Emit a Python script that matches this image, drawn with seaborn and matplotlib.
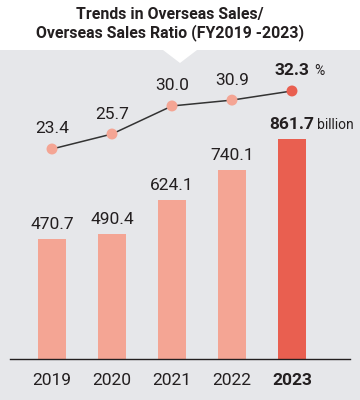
import matplotlib
matplotlib.use("Agg")
import matplotlib.pyplot as plt
import seaborn as sns
import pandas as pd
from matplotlib.patches import Polygon, Rectangle

years = ["2019", "2020", "2021", "2022", "2023"]
sales = [470.7, 490.4, 624.1, 740.1, 861.7]
ratio = [23.4, 25.7, 30.0, 30.9, 32.3]
title_lines = ["Trends in Overseas Sales/", "Overseas Sales Ratio (FY2019 -2023)"]

sns.set_theme(style="white")
plt.rcParams['font.family'] = ['Roboto', 'DejaVu Sans']

GREY = "#e6e7ea"
LIGHT = "#f4a594"
DARK = "#e95f50"
TXT = "#231f20"

W, H = 360, 400
fig = plt.figure(figsize=(W / 100, H / 100), dpi=100, facecolor=GREY)

# white title band + notch
fig.patches.append(Rectangle((0, 1 - 50 / H), 1, 50 / H, transform=fig.transFigure,
                             facecolor="white", edgecolor="none", zorder=0))
fig.patches.append(Polygon([(163 / W, 1 - 50 / H), (197 / W, 1 - 50 / H), (180 / W, 1 - 63 / H)],
                           closed=True, transform=fig.transFigure,
                           facecolor="white", edgecolor="none", zorder=0))

fig.text(170 / W, 1 - 14 / H, title_lines[0], ha="center", va="center",
         fontsize=11.4, fontweight="bold", color=TXT)
fig.text(170 / W, 1 - 33 / H, title_lines[1], ha="center", va="center",
         fontsize=11.4, fontweight="bold", color=TXT)

left, right, bottom, top = 10, 350, 359, 60
ax = fig.add_axes([left / W, 1 - bottom / H, (right - left) / W, (bottom - top) / H])
ax.set_facecolor("none")

df = pd.DataFrame({"year": years, "sales": sales, "ratio": ratio})
colors = [LIGHT] * 4 + [DARK]
sns.barplot(data=df, x="year", y="sales", hue="year", palette=colors, legend=False,
            width=0.467, ax=ax, saturation=1, linewidth=0, edgecolor="none")

ax.set_xlim(-0.7, 4.967)
pxu = 0.255
ax.set_ylim(0, (bottom - top) / pxu)
for s in ["top", "right", "left"]:
    ax.spines[s].set_visible(False)
ax.spines["bottom"].set_color("#231f20")
ax.spines["bottom"].set_linewidth(1)
ax.set_yticks([])
ax.set_xlabel("")
ax.set_ylabel("")
ax.tick_params(axis="x", length=0, pad=10, labelsize=12.5, labelcolor=TXT)
for i, lab in enumerate(ax.get_xticklabels()):
    if i == 4:
        lab.set_fontweight("bold")

# bar labels
for i, v in enumerate(sales):
    ax.annotate(f"{v:.1f}", (i, v), xytext=(0, 5), textcoords="offset points",
                ha="center", va="bottom", fontsize=12.5, color=TXT,
                fontweight="bold" if i == 4 else "normal")

# line axis
ax2 = ax.twinx()
ax2.set_facecolor("none")
rpx = 6.52
ymin2 = ratio[0] - (bottom - 149) / rpx
ymax2 = ratio[0] + (149 - top) / rpx
ax2.set_ylim(ymin2, ymax2)
ax2.set_xlim(-0.7, 4.967)
sns.lineplot(x=list(range(len(years))), y=ratio, ax=ax2, color="#333333", linewidth=1.1,
             zorder=2)
ax2.scatter(range(len(years)), ratio, s=62, c=colors, zorder=3, linewidths=0)
for s in ax2.spines.values():
    s.set_visible(False)
ax2.set_yticks([])
ax2.set_ylabel("")

for i, v in enumerate(ratio):
    ax2.annotate(f"{v:.1f}", (i, v), xytext=(0, 9), textcoords="offset points",
                 ha="center", va="bottom", fontsize=12.5, color=TXT,
                 fontweight="bold" if i == 4 else "normal")

# unit labels
ax2.annotate("%", (4, ratio[4]), xytext=(16, 9.5), textcoords="offset points",
             ha="left", va="bottom", fontsize=10, color=TXT)
ax.annotate("billion", (4, sales[4]), xytext=(18, 5.5), textcoords="offset points",
            ha="left", va="bottom", fontsize=10, color=TXT)

fig.savefig("out.png", dpi=100, facecolor=GREY)
